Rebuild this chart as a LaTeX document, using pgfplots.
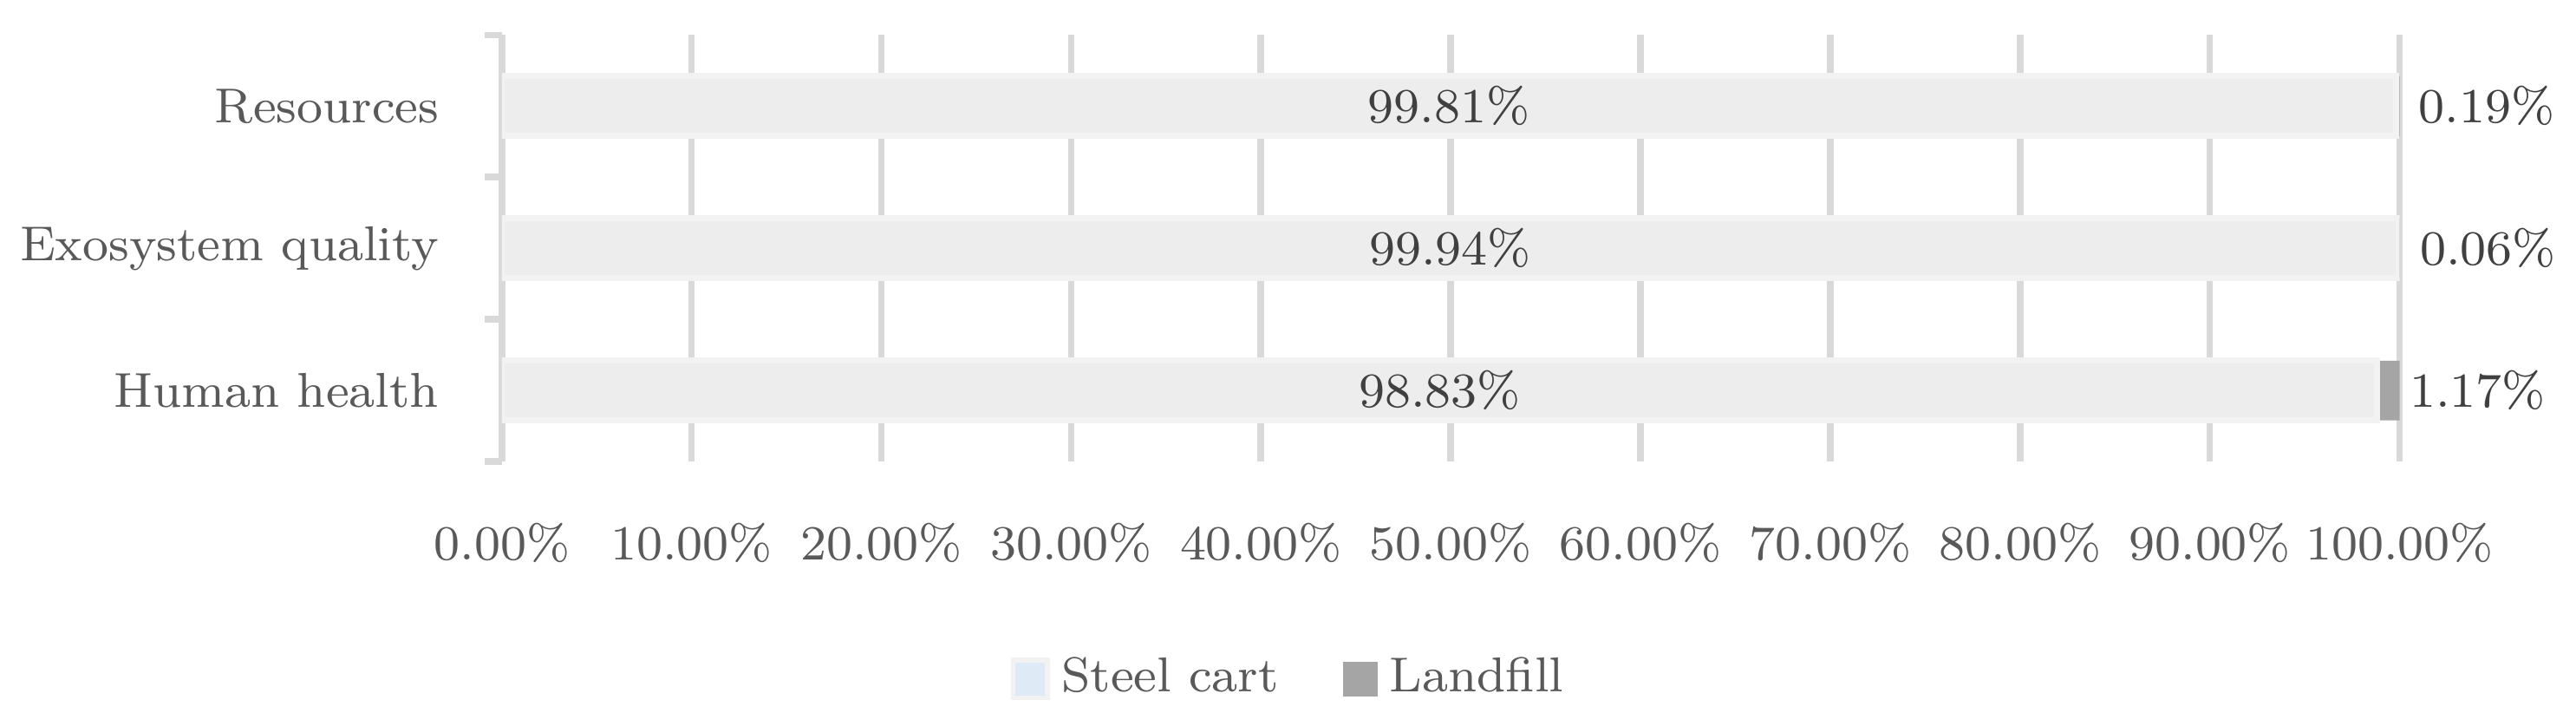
\documentclass[border=0pt]{standalone}
\usepackage{pgfplots}
\pgfplotsset{compat=1.18}
\definecolor{gridgray}{HTML}{D9D9D9}
\definecolor{textgray}{HTML}{595959}
\definecolor{labelgray}{HTML}{404040}
\definecolor{steelfill}{HTML}{EDEDED}
\definecolor{steeledge}{HTML}{F2F2F2}
\definecolor{steelkey}{HTML}{DEEBF7}
\definecolor{landfill}{HTML}{A5A5A5}
\newcommand\chartfont{\fontsize{8.15}{10}\selectfont}

\begin{document}
\begin{tikzpicture}
\begin{axis}[
  scale only axis, width=111.05mm, height=24.95mm,
  xbar stacked, bar width=0.42,
  xmin=0, xmax=100, ymin=-0.5, ymax=2.5,
  xtick={0,10,...,100},
  xticklabels={0.00\%,10.00\%,20.00\%,30.00\%,40.00\%,50.00\%,60.00\%,70.00\%,80.00\%,90.00\%,100.00\%},
  ytick={0,1,2},
  yticklabels={Human health,Exosystem quality,Resources},
  minor ytick={-0.5,0.5,1.5,2.5},
  major tick length=0pt, minor tick length=1mm, tick align=outside,
  ytick pos=left, xtick pos=bottom,
  minor tick style={draw=gridgray, line width=1.1pt},
  axis line style={draw=none},
  xmajorgrids, major x grid style={draw=gridgray, line width=1.1pt},
  tick label style={font=\chartfont, text=textgray},
  xticklabel style={yshift=-2.35mm},
  yticklabel style={xshift=-2.45mm},
  legend style={at={(0.417,-0.51)}, anchor=center, draw=none, fill=none,
    legend columns=-1, font=\chartfont, text=textgray, inner sep=0pt,
    /tikz/every even column/.append style={column sep=3.1mm}},
]
% stacked nodes near coords land mid-segment, so centre them there
\addplot[fill=steelfill, draw=steeledge, line width=1pt,
  nodes near coords, point meta=explicit symbolic,
  every node near coord/.style={font=\chartfont, text=labelgray, anchor=center},
  legend image code/.code={\draw[fill=steelkey, draw=steeledge, line width=0.8pt] (0mm,-1.1mm) rectangle (2mm,1.1mm);}]
  coordinates {(98.83,0) [98.83\%] (99.94,1) [99.94\%] (99.81,2) [99.81\%]};
\addlegendentry{Steel cart}
\addplot[fill=landfill, draw=none,
  nodes near coords, point meta=explicit symbolic,
  every node near coord/.style={font=\chartfont, text=labelgray, anchor=west},
  legend image code/.code={\fill[landfill] (0mm,-1mm) rectangle (2mm,1mm);}]
  coordinates {(1.17,0) [1.17\%] (0.06,1) [0.06\%] (0.19,2) [0.19\%]};
\addlegendentry{Landfill}
\end{axis}
\path (current axis.south west) ++(-27.85mm,-14.3mm) rectangle ++(148.55mm,41.3mm);
\end{tikzpicture}
\end{document}
